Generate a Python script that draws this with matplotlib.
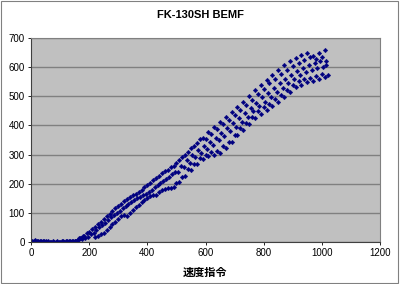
import matplotlib
matplotlib.use("Agg")
import matplotlib.pyplot as plt
from matplotlib.patches import Rectangle

# ---------------------------------------------------------------------------
# Data (speed command vs. back-EMF)
# ---------------------------------------------------------------------------
flat_x = [0, 5, 10, 15, 20, 25, 30, 35, 40, 45, 50, 55, 60, 65, 70, 75, 80,
          85, 90, 95, 100, 105, 110, 115, 120, 125, 130, 135, 140, 145, 150,
          155, 160, 165, 170, 175, 180]
flat_y = [0, 2, 5, 6, 5, 4, 3, 3, 2, 2, 2, 1, 2, 1, 1, 2, 1, 1, 2, 1, 1, 2,
          2, 1, 2, 2, 3, 3, 2, 4, 3, 5, 8, 12, 15, 10, 22]

upper_x = [150, 162, 172, 182, 192, 200, 210, 220, 230, 240, 250, 260, 270,
           280, 290, 300, 310, 320, 330, 340, 350, 360, 370, 380, 390, 400,
           410, 420, 430, 440, 450, 460, 470, 480, 490, 500, 510, 520, 530,
           540, 550, 560, 570, 580, 590, 600, 610, 620, 630, 640, 650, 660,
           670, 680, 690, 700, 710, 720, 730, 740, 750, 760, 770, 780, 790,
           800, 810, 820, 830, 840, 850, 860, 870, 880, 890, 900, 910, 920,
           930, 940, 950, 960, 970, 980, 990, 1000, 1010, 1015]
upper_y = [2, 8, 15, 22, 30, 35, 44, 52, 62, 70, 80, 88, 97, 106, 116, 125,
           132, 140, 146, 153, 160, 165, 172, 180, 188, 195, 204, 212, 220,
           228, 236, 242, 248, 256, 262, 270, 280, 290, 298, 310, 322, 330,
           340, 352, 358, 355, 378, 372, 395, 388, 412, 404, 428, 418, 446,
           436, 462, 452, 480, 470, 500, 488, 520, 508, 540, 526, 556, 544,
           574, 560, 590, 578, 606, 592, 620, 604, 632, 616, 642, 626, 648,
           634, 640, 628, 650, 636, 658, 622]

middle_x = [185, 195, 205, 215, 225, 235, 245, 255, 265, 275, 285, 295, 305,
            315, 325, 335, 345, 355, 365, 375, 385, 395, 405, 415, 425, 435,
            445, 455, 465, 475, 485, 495, 505, 515, 525, 535, 545, 555, 565,
            575, 585, 595, 605, 615, 625, 635, 645, 655, 665, 675, 685, 695,
            705, 715, 725, 735, 745, 755, 765, 775, 785, 795, 805, 815, 825,
            835, 845, 855, 865, 875, 885, 895, 905, 915, 925, 935, 945, 955,
            965, 975, 985, 995, 1005, 1015]
middle_y = [12, 18, 26, 32, 42, 50, 58, 66, 76, 84, 92, 100, 108, 116, 124,
            132, 138, 144, 150, 156, 160, 166, 172, 180, 188, 196, 202, 210,
            216, 222, 232, 240, 240, 262, 256, 280, 272, 298, 290, 314, 304,
            328, 318, 344, 334, 358, 350, 374, 364, 392, 380, 408, 396, 424,
            412, 442, 430, 460, 448, 478, 466, 496, 482, 512, 498, 528, 514,
            546, 530, 560, 546, 574, 558, 588, 572, 598, 584, 606, 592, 616,
            598, 620, 600, 608]

lower_x = [220, 230, 240, 250, 260, 270, 280, 290, 300, 310, 320, 330, 340,
           350, 360, 370, 380, 390, 400, 410, 420, 430, 440, 450, 460, 470,
           480, 490, 500, 510, 520, 530, 540, 550, 560, 570, 580, 590, 600,
           610, 620, 630, 640, 650, 660, 670, 680, 690, 700, 710, 720, 730,
           740, 750, 760, 770, 780, 790, 800, 810, 820, 830, 840, 850, 860,
           870, 880, 890, 900, 910, 920, 930, 940, 950, 960, 970, 980, 990,
           1000, 1010, 1020]
lower_y = [18, 22, 28, 32, 40, 50, 60, 70, 80, 88, 92, 90, 100, 110, 120,
           128, 136, 145, 152, 158, 160, 162, 170, 178, 182, 184, 186, 190,
           204, 206, 224, 228, 250, 246, 268, 266, 288, 284, 300, 294, 308,
           298, 312, 306, 328, 324, 344, 342, 366, 366, 390, 386, 410, 406,
           430, 424, 448, 440, 462, 452, 474, 466, 490, 480, 506, 496, 522,
           514, 540, 532, 552, 540, 560, 548, 562, 552, 570, 560, 576, 566,
           572]

x_ticks = [0, 200, 400, 600, 800, 1000, 1200]
y_ticks = [0, 100, 200, 300, 400, 500, 600, 700]

# ---------------------------------------------------------------------------
# Figure
# ---------------------------------------------------------------------------
fig = plt.figure(figsize=(4.0, 2.84), dpi=100)
fig.patch.set_facecolor("white")
fig.patches.append(Rectangle((0.002, 0.003), 0.994, 0.993, fill=False,
                             edgecolor="#808080", lw=0.8,
                             transform=fig.transFigure))

ax = fig.add_axes([0.0775, 0.148, 0.8725, 0.718])
ax.set_facecolor("#C0C0C0")

for xs, ys in [(flat_x, flat_y), (upper_x, upper_y),
               (middle_x, middle_y), (lower_x, lower_y)]:
    ax.plot(xs, ys, linestyle="none", marker="D", markersize=2.3,
            color="#000080", markeredgewidth=0.3)

ax.set_xlim(0, 1200)
ax.set_ylim(0, 700)
ax.set_xticks(x_ticks)
ax.set_yticks(y_ticks)
ax.yaxis.grid(True, color="#808080", lw=1.0)
ax.set_axisbelow(True)

for lbl in ax.get_xticklabels() + ax.get_yticklabels():
    lbl.set_fontfamily("Liberation Sans")
    lbl.set_fontsize(7)
ax.tick_params(axis="both", direction="out", length=2.5, width=0.6,
               pad=2, colors="black")

for side in ("left", "bottom"):
    ax.spines[side].set_color("#404040")
    ax.spines[side].set_linewidth(0.8)
for side in ("top", "right"):
    ax.spines[side].set_color("#808080")
    ax.spines[side].set_linewidth(0.8)

fig.text(0.5, 0.947, "FK-130SH BEMF", ha="center", va="center",
         fontsize=8, fontweight="bold", family="Liberation Sans")
fig.text(0.513, 0.042, "速度指令", ha="center", va="center",
         fontsize=8, fontweight="bold",
         family=["Noto Sans CJK JP", "DejaVu Sans"])

fig.savefig("out.png", dpi=100)
